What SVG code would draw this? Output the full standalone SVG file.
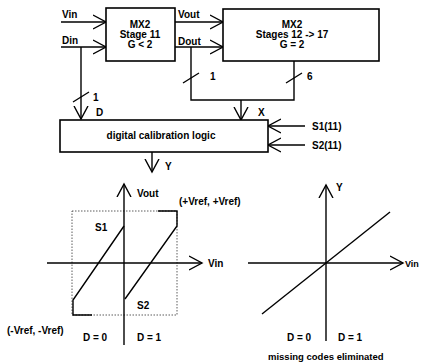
<svg xmlns="http://www.w3.org/2000/svg" width="422" height="363" viewBox="0 0 422 363">
<defs>
<marker id="arr" markerUnits="userSpaceOnUse" markerWidth="16" markerHeight="18" refX="13" refY="8" orient="auto">
<path d="M0,1 L13,8 L0,15" fill="none" stroke="#000" stroke-width="1.4"/>
</marker>
<style>
text{font-family:"Liberation Sans",Arial,Helvetica,sans-serif;font-weight:bold;font-size:10px;fill:#000}
.c{text-anchor:middle}
.box{fill:#fff;stroke:#000;stroke-width:1.6}
.ln{fill:none;stroke:#000;stroke-width:1.4}
.ar{fill:none;stroke:#000;stroke-width:1.4;marker-end:url(#arr)}
.dot{fill:none;stroke:#333;stroke-width:0.8;stroke-dasharray:1.5,1.5}
</style>
</defs>
<rect width="422" height="363" fill="#fff"/>
<g id="connectors">
<path class="ar" d="M61,22 H106"/>
<path class="ar" d="M61,47 H106"/>
<path class="ar" d="M81,47 V119"/>
<path class="ar" d="M175,22 H223"/>
<path class="ar" d="M175,47 H223"/>
<path class="ln" d="M294,61 V100 H191 V47"/>
<path class="ar" d="M241,100 V120"/>
<path class="ar" d="M305,126 H268"/>
<path class="ar" d="M305,145 H268"/>
<path class="ar" d="M152,152 V172"/>
<path class="ln" d="M73,102 L89,92 M183,83 L199,73 M286,83 L302,73"/>
</g>
<g id="stage11">
<rect class="box" x="106" y="8" width="69" height="53"/>
<text class="c" x="140" y="28">MX2</text>
<text class="c" x="140" y="38">Stage 11</text>
<text class="c" x="140" y="48">G &lt; 2</text>
</g>
<g id="stages12-17">
<rect class="box" x="223" y="9" width="156" height="52"/>
<text class="c" x="292" y="28">MX2</text>
<text class="c" x="292" y="38">Stages 12 -&gt; 17</text>
<text class="c" x="292" y="48">G = 2</text>
</g>
<g id="logic">
<rect class="box" x="60" y="120" width="208" height="32"/>
<text class="c" x="161" y="139">digital calibration logic</text>
</g>
<g id="labels">
<text x="62" y="18">Vin</text>
<text x="62" y="44">Din</text>
<text x="178" y="18">Vout</text>
<text x="178" y="45">Dout</text>
<text x="93" y="101">1</text>
<text x="96" y="116">D</text>
<text x="210" y="80">1</text>
<text x="307" y="80">6</text>
<text x="258" y="116">X</text>
<text x="312" y="130">S1(11)</text>
<text x="312" y="149">S2(11)</text>
<text x="165" y="170">Y</text>
</g>
<g id="graph-left">
<rect class="dot" x="72" y="211" width="105" height="104"/>
<path class="ar" d="M124,345 V184"/>
<path class="ar" d="M47,263 H202"/>
<path class="ln" d="M158,211 H177 V226 L125,299"/>
<path class="ln" d="M124,226 L73,300 V315 H92"/>
<text x="137" y="197">Vout</text>
<text x="179" y="205">(+Vref, +Vref)</text>
<text x="95" y="231">S1</text>
<text x="137" y="309">S2</text>
<text x="208" y="267">Vin</text>
<text x="7" y="334">(-Vref, -Vref)</text>
<text x="83" y="341">D = 0</text>
<text x="137" y="341">D = 1</text>
</g>
<g id="graph-right">
<path class="ar" d="M326,341 V185"/>
<path class="ar" d="M248,263 H403"/>
<path class="ln" d="M262,314 L390,212"/>
<text x="336" y="191">Y</text>
<text x="405" y="267" style="font-size:9px">Vin</text>
<text x="287" y="341">D = 0</text>
<text x="338" y="341">D = 1</text>
<text x="268" y="360" style="font-size:9.5px">missing codes eliminated</text>
</g>
</svg>
